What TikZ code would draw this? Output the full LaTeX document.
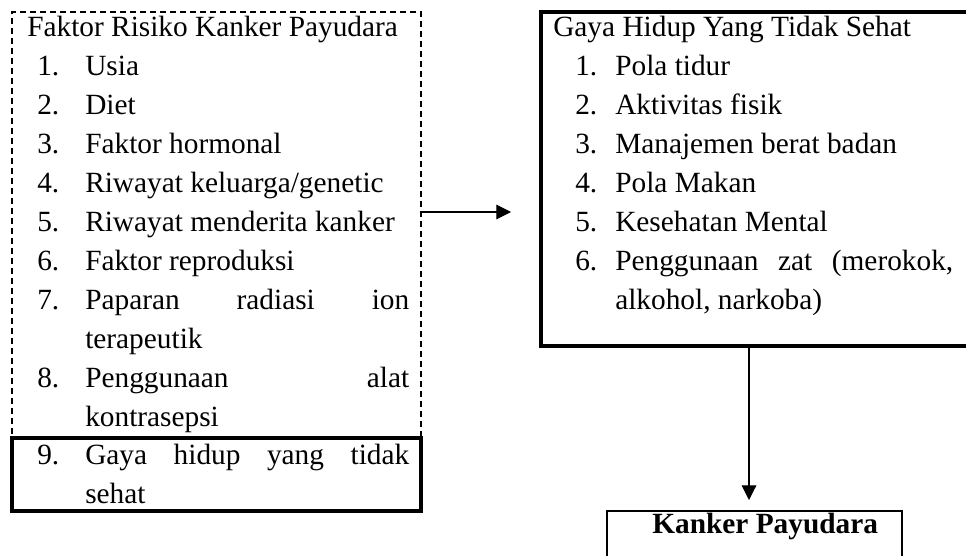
\documentclass[tikz,border=0pt]{standalone}
\usepackage{fontspec}
\setmainfont{Liberation Serif}
\usetikzlibrary{calc,arrows.meta}

\tikzset{
  solidbox/.style={draw, line width=2.4pt, inner sep=0pt, outer sep=0pt},
  dashbox/.style={draw, line width=0.8pt, dash pattern=on 4.5pt off 3pt, inner sep=0pt, outer sep=0pt},
  txt/.style={anchor=base west, inner sep=0pt, font=\fontsize{22}{26}\selectfont},
  arrow/.style={line width=0.8pt, -{Triangle[length=11pt,width=11pt]}},
}

\begin{document}
\begin{tikzpicture}[x=0.75pt, y=-0.75pt]
\useasboundingbox (0,0) rectangle (966,556);
\clip (0,0) rectangle (966,556);

% Boxes
\node[dashbox, minimum width=306.75pt, minimum height=319.5pt] (riskbox) at (216.5,225) {};
\node[solidbox, minimum width=306.75pt, minimum height=54.75pt] (ninebox) at (216.5,474.5) {};
\node[solidbox, minimum width=344.25pt, minimum height=250.5pt] (gayabox) at (770.5,179) {};
\node[solidbox, line width=1.8pt, minimum width=221.25pt, minimum height=51.75pt] (kanker) at (754.5,545.5) {};

% Left list: risk factors
\node[txt] (risktitle) at (27,37) {Faktor Risiko Kanker Payudara};
\foreach \row/\num in {1/1, 2/2, 3/3, 4/4, 5/5, 6/6, 7/7, 9/8, 11/9}
  \node[txt] (risknum\row) at (37,37+38.9*\row) {\num.};
\foreach \row/\txt in {1/Usia, 2/Diet, 3/Faktor hormonal, 4/{Riwayat keluarga/genetic},
    5/Riwayat menderita kanker, 6/Faktor reproduksi,
    7/{\makebox[243pt][l]{Paparan\hfill radiasi\hfill ion}}, 8/terapeutik,
    9/{\makebox[243pt][l]{Penggunaan\hfill alat}}, 10/kontrasepsi,
    11/{\makebox[243pt][l]{Gaya\hfill hidup\hfill yang\hfill tidak}}, 12/sehat}
  \node[txt] (risktxt\row) at (85,37+38.9*\row) {\txt};

% Right list: lifestyle
\node[txt] (gayatitle) at (553,37) {Gaya Hidup Yang Tidak Sehat};
\foreach \row in {1,...,6}
  \node[txt] (gayanum\row) at (575,37+38.9*\row) {\row.};
\foreach \row/\txt in {1/Pola tidur, 2/Aktivitas fisik, 3/Manajemen berat badan,
    4/Pola Makan, 5/Kesehatan Mental,
    6/{\makebox[253.5pt][l]{Penggunaan\hfill zat\hfill (merokok,}}, 7/{alkohol, narkoba)}}
  \node[txt] (gayatxt\row) at (615,37+38.9*\row) {\txt};

% Outcome
\node[txt, font=\fontsize{22}{26}\selectfont\bfseries] (kankertxt) at (652,533) {Kanker Payudara};

% Connectors
\draw[arrow] ($(riskbox.east)+(0,-13)$) -- ($(gayabox.west |- riskbox.east)+(-30,-13)$);
\draw[arrow] ($(gayabox.south west)+(208,0)$) -- ($(kanker.north)+(-5.5,-11)$);
\end{tikzpicture}
\end{document}
